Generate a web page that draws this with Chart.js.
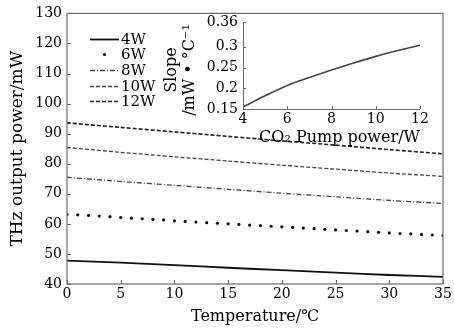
<!DOCTYPE html>
<html>
<head>
<meta charset="utf-8">
<script src="https://cdn.jsdelivr.net/npm/chart.js@4.4.1/dist/chart.umd.min.js"></script>
<style>
  html, body { margin: 0; padding: 0; background: #fff; }
  #wrap { position: relative; width: 454px; height: 331px; }
  #main { position: absolute; left: 0; top: 0; }
  #inset { position: absolute; left: 160px; top: 0; }
</style>
</head>
<body>
<div id="wrap">
  <canvas id="main" width="454" height="331" style="width:454px;height:331px"></canvas>
  <canvas id="inset" width="294" height="150" style="width:294px;height:150px"></canvas>
</div>
<script>
// main chart data
const temps = [0, 5, 10, 15, 20, 25, 30, 35];
const tempsDots = [0, 1, 2, 3, 4, 5, 6, 7, 8, 9, 10, 11, 12, 13, 14, 15, 16, 17,
                   18, 19, 20, 21, 22, 23, 24, 25, 26, 27, 28, 29, 30, 31, 32, 33, 34, 35];
const power4W  = [47.8, 47.1, 46.3, 45.4, 44.6, 43.8, 43.0, 42.4];
const power6W  = [63.1, 63.0, 62.8, 62.6, 62.4, 62.1, 61.9, 61.7, 61.5, 61.3, 61.0, 60.8,
                  60.6, 60.4, 60.2, 60.0, 59.8, 59.6, 59.4, 59.2, 59.0, 58.8, 58.6, 58.4,
                  58.2, 58.0, 57.8, 57.6, 57.4, 57.2, 57.0, 56.8, 56.7, 56.5, 56.3, 56.1];
const power8W  = [75.5, 74.1, 72.8, 71.5, 70.2, 69.0, 67.8, 66.8];
const power10W = [85.4, 83.8, 82.3, 80.9, 79.5, 78.2, 76.9, 75.8];
const power12W = [93.6, 92.1, 90.6, 89.1, 87.6, 86.2, 84.7, 83.3];
const seriesNames = ['4W', '6W', '8W', '10W', '12W'];

// inset data
const pumpPower = [4, 5, 6, 7, 8, 9, 10, 11, 12];
const slope = [0.155, 0.182, 0.207, 0.226, 0.244, 0.261, 0.277, 0.291, 0.304];
const slopeTicks = [0.15, 0.2, 0.25, 0.3, 0.36];

const serif = 'DejaVu Serif';
const ink = '#000';
const frameGray = '#6a6a6a';

const pts = (xs, ys) => xs.map((x, i) => ({ x: x, y: ys[i] }));

// frame + inward ticks on left/bottom
const framePlugin = {
  id: 'frame',
  afterDraw(chart) {
    const { ctx, chartArea: a, scales } = chart;
    ctx.save();
    ctx.strokeStyle = frameGray;
    ctx.lineWidth = 1.2;
    ctx.strokeRect(a.left, a.top, a.right - a.left, a.bottom - a.top);
    ctx.beginPath();
    scales.x.ticks.forEach(t => {
      const px = Math.round(scales.x.getPixelForValue(t.value)) + 0.5;
      ctx.moveTo(px, a.bottom);
      ctx.lineTo(px, a.bottom - 4);
    });
    scales.y.ticks.forEach(t => {
      const py = Math.round(scales.y.getPixelForValue(t.value)) + 0.5;
      ctx.moveTo(a.left, py);
      ctx.lineTo(a.left + 4, py);
    });
    ctx.stroke();
    ctx.restore();
  }
};

// legend in top-left corner
const legendPlugin = {
  id: 'cornerLegend',
  afterDraw(chart) {
    const ctx = chart.ctx;
    const rows = [39, 54, 70, 86, 101];
    ctx.save();
    ctx.font = '15px "' + serif + '"';
    ctx.textBaseline = 'middle';
    ctx.textAlign = 'left';
    chart.data.datasets.forEach((ds, i) => {
      const y = rows[i] + 0.5;
      if (ds.showLine === false) {
        ctx.fillStyle = ds.pointBackgroundColor;
        ctx.beginPath();
        ctx.arc(104.5, y, ds.pointRadius, 0, Math.PI * 2);
        ctx.fill();
      } else {
        ctx.strokeStyle = ds.borderColor;
        ctx.lineWidth = ds.borderWidth;
        ctx.setLineDash(ds.borderDash || []);
        ctx.beginPath();
        ctx.moveTo(90, y);
        ctx.lineTo(119, y);
        ctx.stroke();
        ctx.setLineDash([]);
      }
      ctx.fillStyle = ink;
      ctx.fillText(ds.label, 121, y + 1);
    });
    ctx.restore();
  }
};

new Chart(document.getElementById('main'), {
  type: 'line',
  data: {
    datasets: [
      { label: seriesNames[0], data: pts(temps, power4W), borderColor: '#111', borderWidth: 1.8,
        pointRadius: 0, tension: 0.3 },
      { label: seriesNames[1], data: pts(tempsDots, power6W), showLine: false, pointRadius: 1.6,
        pointBackgroundColor: '#111', pointBorderWidth: 0, borderColor: '#111' },
      { label: seriesNames[2], data: pts(temps, power8W), borderColor: '#444', borderWidth: 1.3,
        borderDash: [5, 2, 1, 2], pointRadius: 0, tension: 0.3 },
      { label: seriesNames[3], data: pts(temps, power10W), borderColor: '#444', borderWidth: 1.3,
        borderDash: [4, 2], pointRadius: 0, tension: 0.3 },
      { label: seriesNames[4], data: pts(temps, power12W), borderColor: '#222', borderWidth: 1.6,
        borderDash: [4, 2], pointRadius: 0, tension: 0.3 }
    ]
  },
  options: {
    responsive: false,
    animation: false,
    layout: { padding: { left: 0, right: 11, top: 12, bottom: 0 } },
    plugins: { legend: { display: false }, tooltip: { enabled: false } },
    scales: {
      x: {
        type: 'linear', min: 0, max: 35,
        grid: { display: false, drawTicks: false },
        border: { display: false },
        ticks: { stepSize: 5, padding: 2, color: ink, font: { family: serif, size: 14 } },
        title: { display: true, text: 'Temperature/℃', color: ink,
                 font: { family: serif, size: 16 }, padding: { top: 0, bottom: 5 } },
        afterFit(s) { s.height = 47; }
      },
      y: {
        min: 40, max: 130,
        grid: { display: false, drawTicks: false },
        border: { display: false },
        ticks: { stepSize: 10, padding: 5, color: ink, font: { family: serif, size: 14 } },
        title: { display: true, text: 'THz output power/mW', color: ink,
                 font: { family: serif, size: 17 }, padding: { top: 7, bottom: 0 } },
        afterFit(s) { s.width = 67; }
      }
    }
  },
  plugins: [framePlugin, legendPlugin]
});

// inset axes: left and bottom lines with inward ticks, plus the rotated y title
const insetAxesPlugin = {
  id: 'insetAxes',
  afterDraw(chart) {
    const { ctx, chartArea: a, scales } = chart;
    ctx.save();
    ctx.strokeStyle = frameGray;
    ctx.lineWidth = 1;
    ctx.beginPath();
    ctx.moveTo(a.left + 0.5, a.top);
    ctx.lineTo(a.left + 0.5, a.bottom + 0.5);
    ctx.lineTo(a.right, a.bottom + 0.5);
    scales.x.ticks.forEach(t => {
      const px = Math.round(scales.x.getPixelForValue(t.value)) + 0.5;
      ctx.moveTo(px, a.bottom);
      ctx.lineTo(px, a.bottom - 3);
    });
    scales.y.ticks.forEach(t => {
      const py = Math.round(scales.y.getPixelForValue(t.value)) + 0.5;
      ctx.moveTo(a.left, py);
      ctx.lineTo(a.left + 3, py);
    });
    ctx.stroke();

    ctx.fillStyle = ink;
    ctx.font = '16px "' + serif + '"';
    ctx.textAlign = 'center';
    ctx.textBaseline = 'middle';
    ctx.translate(0, 70);
    ctx.rotate(-Math.PI / 2);
    ctx.fillText('Slope', 0, 11.5);
    ctx.fillText('/mW • °C⁻¹', 0, 29.5);
    ctx.restore();
  }
};

new Chart(document.getElementById('inset'), {
  type: 'line',
  data: {
    datasets: [
      { data: pts(pumpPower, slope), borderColor: '#444', borderWidth: 1.6, pointRadius: 0,
        cubicInterpolationMode: 'monotone' }
    ]
  },
  options: {
    responsive: false,
    animation: false,
    layout: { padding: { left: 0, right: 34, top: 22, bottom: 0 } },
    plugins: { legend: { display: false }, tooltip: { enabled: false } },
    scales: {
      x: {
        type: 'linear', min: 4, max: 12,
        grid: { display: false, drawTicks: false },
        border: { display: false },
        ticks: { stepSize: 2, padding: 2, color: ink, font: { family: serif, size: 14 } },
        title: { display: true, text: 'CO₂ Pump power/W', align: 'end', color: ink,
                 font: { family: serif, size: 16 }, padding: { top: 0, bottom: 3 } },
        afterFit(s) { s.height = 41; }
      },
      y: {
        min: 0.15, max: 0.36,
        grid: { display: false, drawTicks: false },
        border: { display: false },
        afterBuildTicks(s) { s.ticks = slopeTicks.map(v => ({ value: v })); },
        ticks: { padding: 5, color: ink, font: { family: serif, size: 14 },
                 callback: v => String(v) },
        afterFit(s) { s.width = 83; }
      }
    }
  },
  plugins: [insetAxesPlugin]
});
</script>
</body>
</html>
